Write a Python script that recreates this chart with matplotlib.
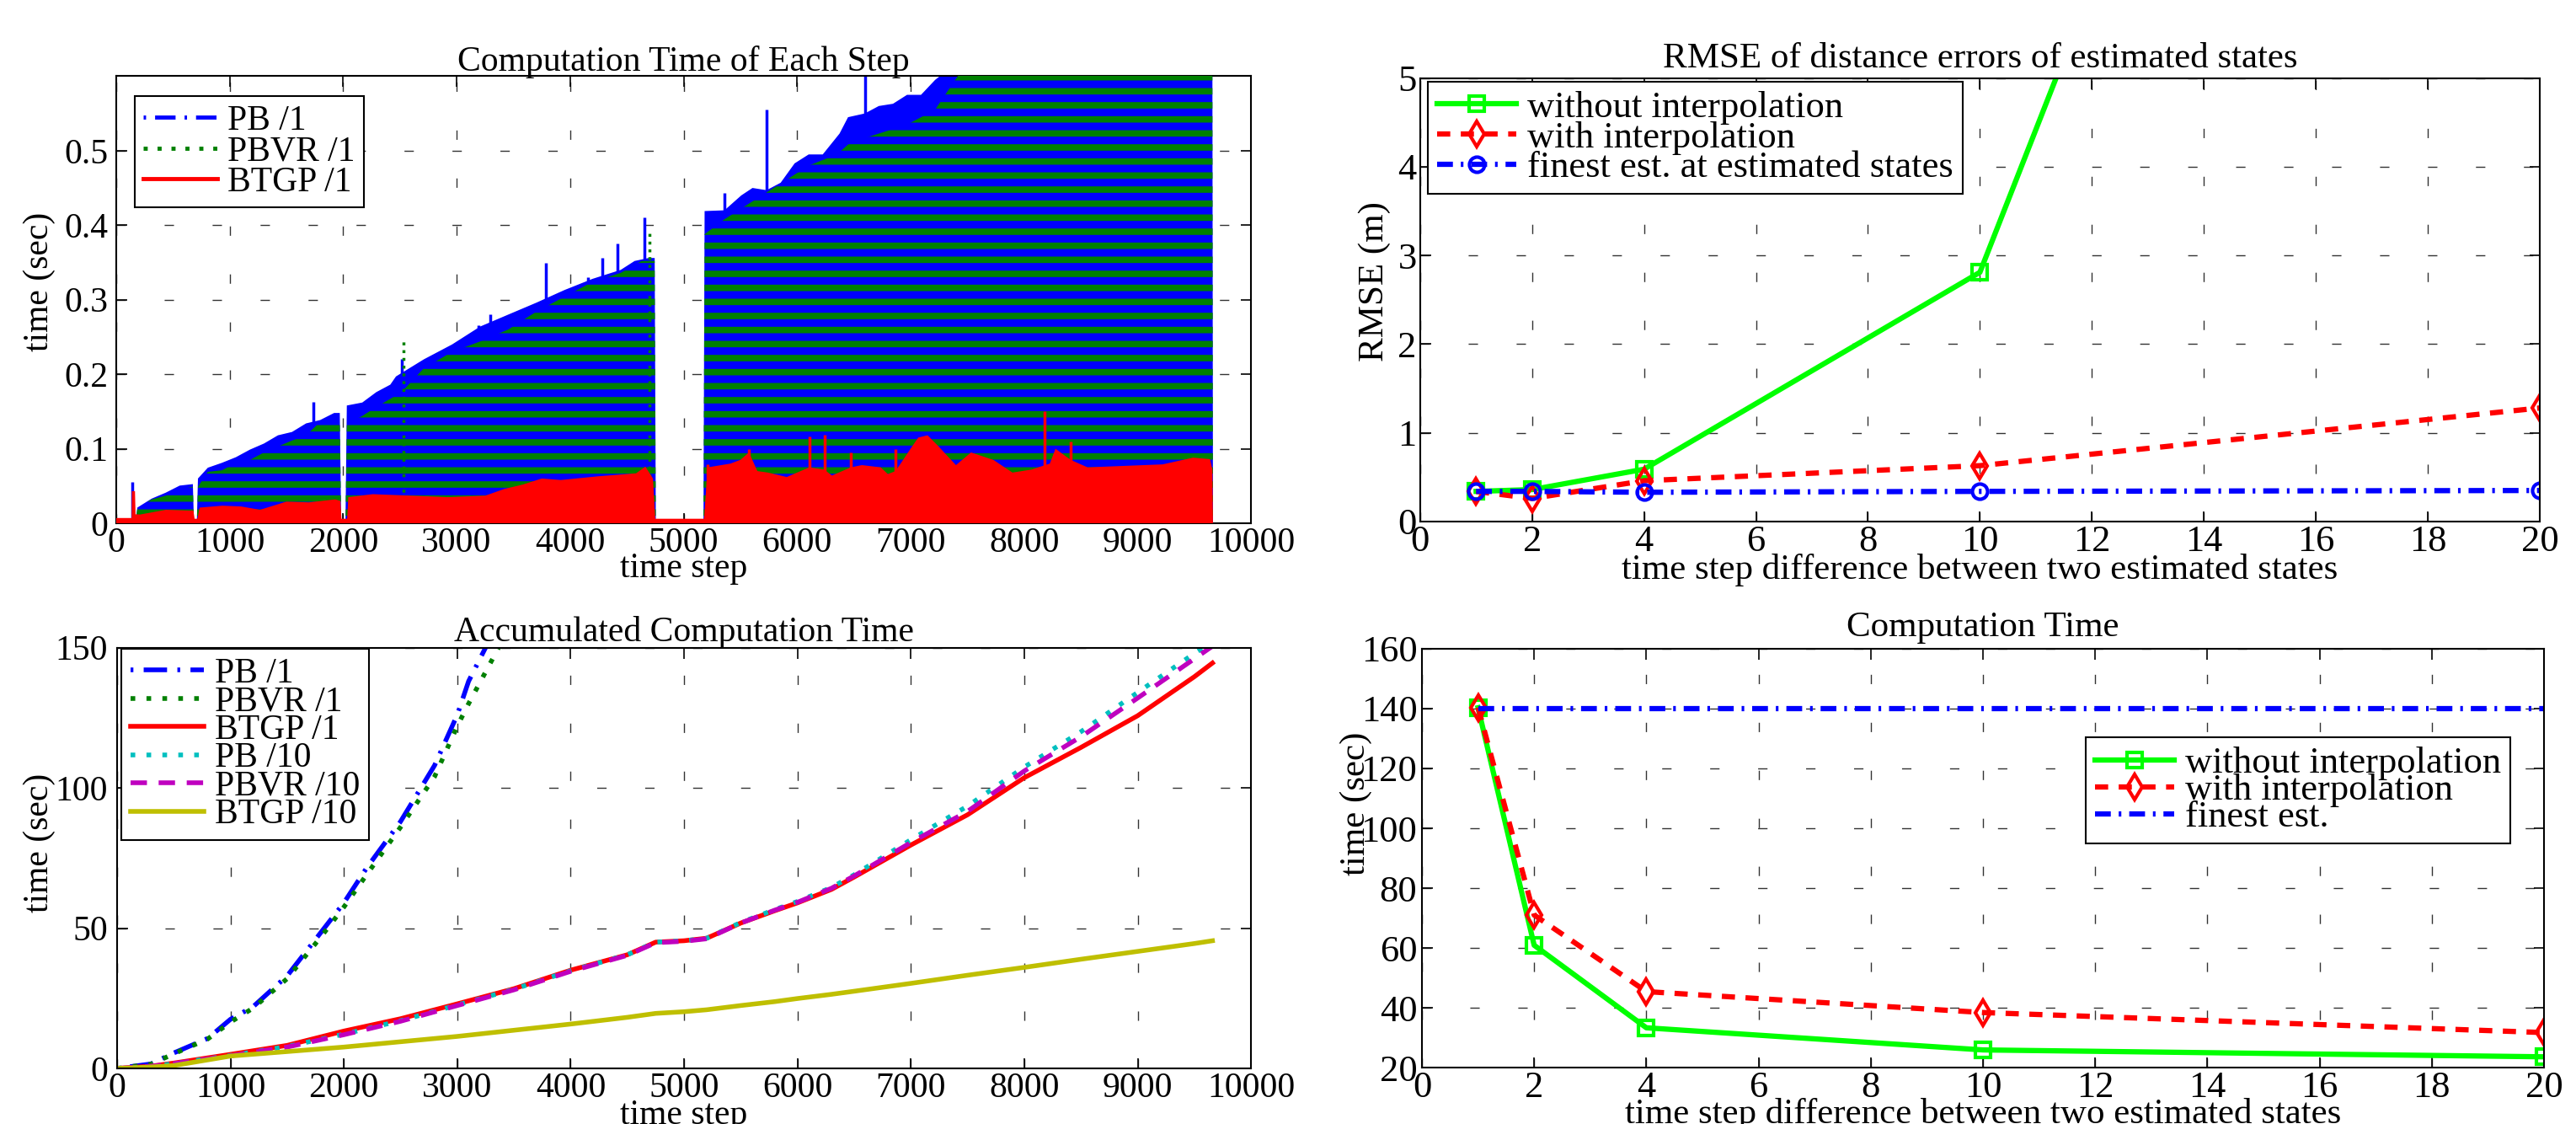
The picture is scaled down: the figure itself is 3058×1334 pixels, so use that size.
import numpy as np
import matplotlib
matplotlib.use('Agg')
import matplotlib.pyplot as plt
from matplotlib.lines import Line2D

plt.rcParams['font.family'] = ['Liberation Serif', 'DejaVu Serif']
plt.rcParams['font.size'] = 30
plt.rcParams['hatch.linewidth'] = 5.5
plt.rcParams['hatch.color'] = (0, 0.5, 0)

# ---------------- data: computation time of each step (envelopes) ----------------
pb_x = [170, 186, 312, 436, 559, 675, 685, 710, 720, 807, 930, 1054, 1178, 1302, 1425, 1549, 1673, 1797,
        1920, 1970, 1982, 2020, 2032, 2168, 2292, 2415, 2465, 2711, 2960, 3207, 3454, 3702, 3950, 4197,
        4445, 4568, 4692, 4745, 4755, 5175, 5185, 5360, 5508, 5607, 5731, 5855, 5978, 6102, 6226, 6374,
        6449, 6597, 6720, 6845, 6969, 7092, 7216, 7340, 9660, 9665]
pb_top = [0, 0.021, 0.033, 0.041, 0.0505, 0.0525, 0, 0, 0.06, 0.0745, 0.081, 0.0886, 0.0988, 0.107, 0.118,
          0.1225, 0.134, 0.1385, 0.148, 0.148, 0, 0, 0.158, 0.162, 0.176, 0.186, 0.197, 0.220, 0.240, 0.264,
          0.280, 0.296, 0.313, 0.328, 0.340, 0.352, 0.356, 0.356, 0, 0, 0.419, 0.420, 0.440, 0.450, 0.447,
          0.457, 0.483, 0.495, 0.495, 0.523, 0.545, 0.55, 0.56, 0.563, 0.575, 0.575, 0.595, 0.61, 0.61, 0]
pb_spike_x = [140, 1735, 2514, 3193, 3294, 3789, 4158, 4284, 4418, 4655, 5360, 5731, 6597]
pb_spike_top = [0.055, 0.163, 0.220, 0.266, 0.280, 0.350, 0.330, 0.356, 0.376, 0.411, 0.443, 0.555, 0.61]

pbvr_x = [170, 186, 312, 436, 559, 675, 685, 710, 720, 807, 930, 1054, 1178, 1302, 1425, 1549, 1673, 1797,
          1920, 1970, 1982, 2020, 2032, 2168, 2292, 2415, 2514, 2711, 2960, 3207, 3454, 3702, 3950, 4197,
          4445, 4630, 4745, 4755, 5175, 5185, 5360, 5607, 5855, 6102, 6350, 6470, 6720, 6969, 7216, 7340,
          7461, 9660, 9665]
pbvr_top = [0, 0.0207, 0.032, 0.037, 0.045, 0.049, 0, 0, 0.049, 0.069, 0.071, 0.081, 0.085, 0.095, 0.103,
            0.111, 0.118, 0.136, 0.140, 0.140, 0, 0, 0.133, 0.144, 0.156, 0.167, 0.176, 0.208, 0.230, 0.244,
            0.260, 0.284, 0.304, 0.324, 0.336, 0.352, 0.352, 0, 0, 0.388, 0.408, 0.432, 0.456, 0.480, 0.495,
            0.511, 0.523, 0.535, 0.555, 0.583, 0.61, 0.61, 0]
pbvr_spike_x = [2530, 4700]
pbvr_spike_top = [0.245, 0.390]

btgp_x = [0, 135, 138, 165, 170, 210, 438, 636, 680, 690, 715, 735, 935, 1100, 1267, 1500, 1697, 1929, 1975,
          1985, 2035, 2045, 2260, 2591, 2925, 3252, 3420, 3585, 3750, 3918, 4248, 4417, 4581, 4663, 4730,
          4750, 5180, 5212, 5412, 5500, 5576, 5650, 5743, 5909, 6000, 6108, 6240, 6307, 6473, 6571, 6737,
          6800, 6868, 7000, 7068, 7150, 7235, 7400, 7533, 7730, 7898, 8064, 8227, 8277, 8411, 8560, 8892,
          9222, 9489, 9639, 9660, 9665]
btgp_top = [0.007, 0.007, 0.043, 0.043, 0.012, 0.0117, 0.018, 0.017, 0.017, 0.006, 0.006, 0.021, 0.0235,
            0.0225, 0.018, 0.029, 0.028, 0.032, 0.030, 0.006, 0.006, 0.035, 0.039, 0.037, 0.035, 0.037, 0.046,
            0.052, 0.060, 0.058, 0.063, 0.065, 0.067, 0.076, 0.060, 0.006, 0.006, 0.075, 0.080, 0.085, 0.095,
            0.070, 0.068, 0.062, 0.068, 0.075, 0.072, 0.064, 0.075, 0.078, 0.075, 0.066, 0.070, 0.100, 0.115,
            0.118, 0.105, 0.078, 0.095, 0.085, 0.068, 0.072, 0.080, 0.100, 0.085, 0.075, 0.077, 0.079, 0.088,
            0.086, 0.072, 0]
btgp_spike_x = [5212, 5576, 6108, 6240, 6473, 6868, 8180, 8411]
btgp_spike_top = [0.079, 0.100, 0.117, 0.119, 0.095, 0.100, 0.150, 0.110]

# ---------------- data: accumulated computation time ----------------
acc_pb1_x = [0, 300, 500, 800, 1000, 1200, 1500, 1800, 2000, 2200, 2500, 2800, 3000, 3100, 3250]
acc_pb1 = [0, 1.6, 5.5, 10.7, 17.5, 22, 33, 48.6, 59, 71.4, 88, 108, 126, 138, 150]
acc_pbvr1_x = [0, 300, 500, 800, 1000, 1200, 1500, 1800, 2000, 2200, 2500, 2800, 3000, 3100, 3365]
acc_pbvr1 = [0, 1.5, 5.2, 10.5, 16.5, 21.5, 32, 47, 57.5, 69, 86, 104, 122, 130, 150]
acc_x = [0, 300, 500, 1000, 1500, 2000, 2500, 3000, 3500, 4000, 4500, 4750, 5000, 5200, 5500, 5800, 6000,
         6300, 6500, 7000, 7500, 8000, 8500, 9000, 9500, 9660]
acc_btgp1 = [0, 0.8, 1.9, 5, 8.2, 13.3, 17.7, 23, 28.4, 35, 40.5, 45, 45.5, 46.4, 51.8, 56.2, 59, 63.8, 68.2,
             79.6, 90.4, 103.6, 114.4, 125.7, 139.6, 144.5]
acc_pb10 = [0, 0.7, 1.7, 4.6, 7.8, 12.2, 17, 22.6, 28.2, 34.8, 40.5, 45, 45.5, 46.4, 52, 56.6, 59.5, 64.5,
            69, 81.5, 93.5, 107.4, 120, 134, 147.9, 152]
acc_pbvr10 = [0, 0.7, 1.7, 4.5, 7.6, 12, 16.8, 22.4, 28, 34.6, 40.3, 44.8, 45.3, 46.2, 51.8, 56.4, 59.2, 64.2,
              68.6, 80.5, 91.6, 106, 118.2, 132, 146, 150.5]
acc_btgp10 = [0, 0.5, 1, 4.4, 6, 7.6, 9.5, 11.4, 13.6, 15.8, 18.2, 19.6, 20.2, 20.9, 22.4, 23.8, 24.9, 26.4,
              27.5, 30.3, 33.2, 36, 38.9, 41.7, 44.5, 45.5]

# ---------------- data: interval experiments ----------------
step_diff = [1, 2, 4, 10, 20]
rmse_without = [0.34, 0.36, 0.59, 2.81, 18.9]
rmse_with = [0.34, 0.26, 0.46, 0.63, 1.28]
rmse_finest = [0.34, 0.34, 0.33, 0.34, 0.35]
ctime_without = [140.3, 60.9, 33.3, 25.9, 23.6]
ctime_with = [140.4, 71, 45.4, 38.4, 31.7]
ctime_finest = [140, 140, 140, 140, 140]

GREEN = (0, 0.5, 0)
CYAN = (0, 0.75, 0.75)
MAG = (0.75, 0, 0.75)
YEL = (0.75, 0.75, 0)
LIME = (0, 1, 0)

fig = plt.figure(figsize=(30.58, 13.34), dpi=100)
ax_tl = fig.add_axes([0.04513, 0.5345, 0.4405, 0.3977])
ax_tr = fig.add_axes([0.5513, 0.536, 0.4346, 0.3946])
ax_bl = fig.add_axes([0.04545, 0.04948, 0.4402, 0.3744])
ax_br = fig.add_axes([0.552, 0.0502, 0.4356, 0.3726])


def style(ax, ypad, lsize=30):
    ax.set_axisbelow(True)
    ax.tick_params(direction='in', top=True, right=True, length=9, width=1.2, labelsize=lsize)
    ax.tick_params(axis='x', pad=3)
    ax.tick_params(axis='y', pad=ypad)
    ax.grid(True, color='0.2', linewidth=1.0, linestyle=(0, (8, 33)))
    for s in ax.spines.values():
        s.set_linewidth(1.5)


def legend(ax, handles, labels, anchor, spacing, fs=30):
    leg = ax.legend(handles, labels, loc='upper left', bbox_to_anchor=anchor, borderaxespad=0,
                    fancybox=False, framealpha=1, edgecolor='k', fontsize=fs, handlelength=2.1,
                    handletextpad=0.3, labelspacing=spacing, borderpad=0.25)
    leg.get_frame().set_linewidth(1.5)
    return leg


# ---- top left ----
ax = ax_tl
ax.fill_between(pb_x, 0, pb_top, facecolor='b', linewidth=0, zorder=2)
ax.vlines(pb_spike_x, 0, pb_spike_top, color='b', linewidth=2.5, zorder=2)
ax.fill_between(pbvr_x, 0, pbvr_top, facecolor='none', edgecolor=GREEN, hatch='-', linewidth=0, zorder=3)
ax.vlines(pbvr_spike_x, 0, pbvr_spike_top, color=GREEN, linewidth=2.5, linestyle=':', zorder=3)
ax.fill_between(btgp_x, 0, btgp_top, facecolor='r', linewidth=0, zorder=4)
ax.vlines(btgp_spike_x, 0, btgp_spike_top, color='r', linewidth=2.5, zorder=4)
ax.set_xlim(0, 10000)
ax.set_ylim(0, 0.6)
ax.set_xticks(np.arange(0, 10001, 1000))
ax.set_yticks([0, 0.1, 0.2, 0.3, 0.4, 0.5])
ax.set_yticklabels(['0', '0.1', '0.2', '0.3', '0.4', '0.5'])
style(ax, 7)
ax.set_title('Computation Time of Each Step', y=1.012, va='baseline', pad=0, fontsize=30)
ax.set_xlabel('time step', fontsize=30)
ax.xaxis.set_label_coords(0.5, -0.066)
ax.set_ylabel('time (sec)', fontsize=30)
ax.yaxis.set_label_coords(-0.0535, 0.541)
h = [Line2D([], [], color='b', lw=3.5, linestyle=(0, (0.6, 2.2, 5, 2.2))),
     Line2D([], [], color=GREEN, lw=3.5, linestyle=(0, (1, 2.4))),
     Line2D([], [], color='r', lw=3.5)]
legend(ax, h, ['PB /1', 'PBVR /1', 'BTGP /1'], (0.0163, 0.956), -0.05)

# ---- bottom left ----
ax = ax_bl
ax.plot(acc_pb1_x, acc_pb1, color='b', lw=4, linestyle=(0, (0.6, 2.2, 5, 2.2)), label='PB /1')
ax.plot(acc_pbvr1_x, acc_pbvr1, color=GREEN, lw=4, linestyle=(0, (1, 2.4)), label='PBVR /1')
ax.plot(acc_x, acc_btgp1, color='r', lw=4, label='BTGP /1')
ax.plot(acc_x, acc_pb10, color=CYAN, lw=4, linestyle=(0, (1, 2.4)), label='PB /10')
ax.plot(acc_x, acc_pbvr10, color=MAG, lw=4, linestyle=(0, (3.5, 2.5)), label='PBVR /10')
ax.plot(acc_x, acc_btgp10, color=YEL, lw=4, label='BTGP /10')
ax.set_xlim(0, 10000)
ax.set_ylim(0, 150)
ax.set_xticks(np.arange(0, 10001, 1000))
ax.set_yticks([0, 50, 100, 150])
style(ax, 8)
ax.set_title('Accumulated Computation Time', y=1.015, va='baseline', pad=0, fontsize=30)
ax.set_xlabel('time step', fontsize=30)
ax.xaxis.set_label_coords(0.5, -0.074)
ax.set_ylabel('time (sec)', fontsize=30)
ax.yaxis.set_label_coords(-0.054, 0.535)
hh, ll = ax.get_legend_handles_labels()
legend(ax, hh, ll, (0.004, 0.997), -0.12)

# ---- top right ----
ax = ax_tr
ax.plot(step_diff, rmse_without, color=LIME, lw=4.5, marker='s', ms=13, mew=3, mfc='none',
        label='without interpolation')
ax.plot(step_diff, rmse_with, color='r', lw=4.5, linestyle=(0, (2.5, 2)), marker='d', ms=15, mew=3,
        mfc='none', label='with interpolation')
ax.plot(step_diff, rmse_finest, color='b', lw=4.5, linestyle=(0, (3, 1.5, 0.5, 1.5)), marker='o', ms=13,
        mew=3, mfc='none', label='finest est. at estimated states')
ax.set_xlim(0, 20)
ax.set_ylim(0, 5)
ax.set_xticks(np.arange(0, 21, 2))
ax.set_yticks(np.arange(0, 6, 1))
style(ax, 3, 32)
ax.set_title('RMSE of distance errors of estimated states', y=1.024, va='baseline', pad=0, fontsize=31)
ax.set_xlabel('time step difference between two estimated states', fontsize=31)
ax.xaxis.set_label_coords(0.5, -0.072)
ax.set_ylabel('RMSE (m)', fontsize=31)
ax.yaxis.set_label_coords(-0.026, 0.542)
hh, ll = ax.get_legend_handles_labels()
legend(ax, hh, ll, (0.007, 0.992), -0.1, fs=32)

# ---- bottom right ----
ax = ax_br
ax.plot(step_diff, ctime_without, color=LIME, lw=4.5, marker='s', ms=13, mew=3, mfc='none',
        label='without interpolation')
ax.plot(step_diff, ctime_with, color='r', lw=4.5, linestyle=(0, (2.5, 2)), marker='d', ms=15, mew=3,
        mfc='none', label='with interpolation')
ax.plot(step_diff, ctime_finest, color='b', lw=4.5, linestyle=(0, (3, 1.5, 0.5, 1.5)), label='finest est.')
ax.set_xlim(0, 20)
ax.set_ylim(20, 160)
ax.set_xticks(np.arange(0, 21, 2))
ax.set_yticks(np.arange(20, 161, 20))
style(ax, 4, 32)
ax.set_title('Computation Time', y=1.030, va='baseline', pad=0, fontsize=31)
ax.set_xlabel('time step difference between two estimated states', fontsize=31)
ax.xaxis.set_label_coords(0.5, -0.072)
ax.set_ylabel('time (sec)', fontsize=31)
ax.yaxis.set_label_coords(-0.044, 0.63)
hh, ll = ax.get_legend_handles_labels()
legend(ax, hh, ll, (0.5916, 0.789), -0.18, fs=32)

fig.savefig('out.png', dpi=100)
